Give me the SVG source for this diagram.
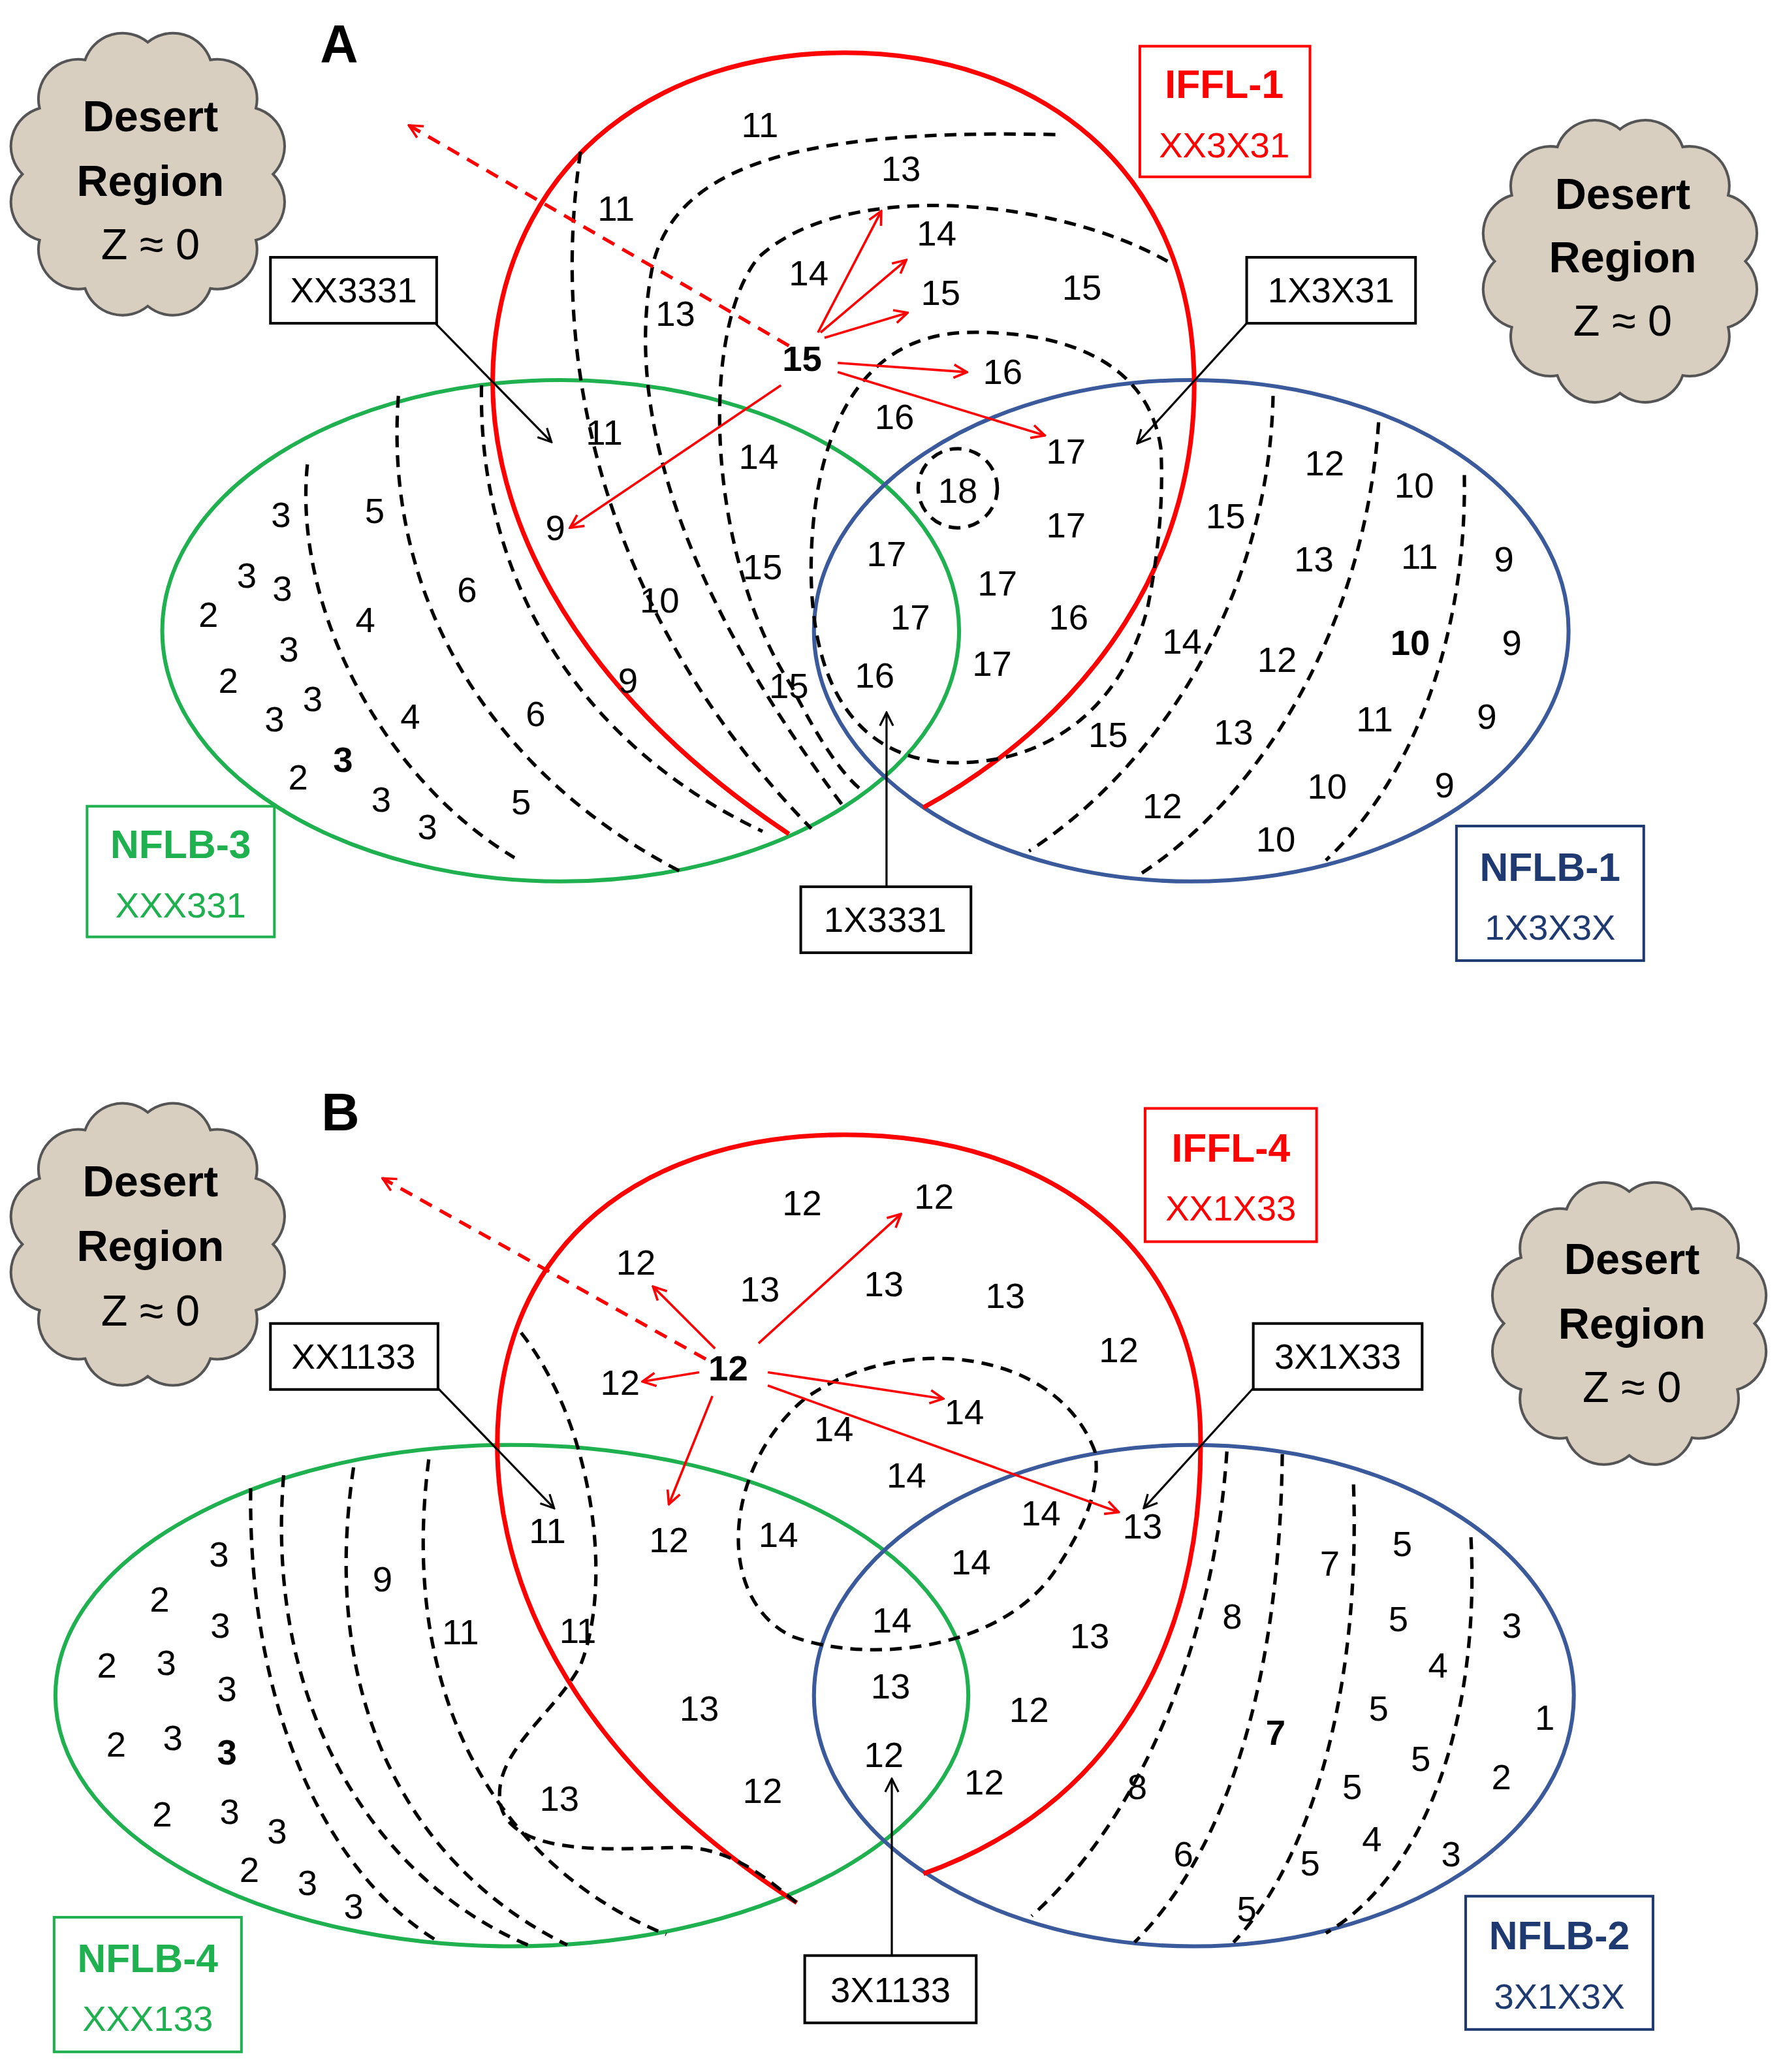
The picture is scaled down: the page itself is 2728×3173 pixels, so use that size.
<svg xmlns="http://www.w3.org/2000/svg" width="2728" height="3173" viewBox="0 0 2728 3173">
<defs>
<style>
text{font-family:"Liberation Sans",Arial,sans-serif;font-size:27px;text-anchor:middle;dominant-baseline:central;fill:#000}
.b{font-weight:bold}
.d{fill:none;stroke:#000;stroke-width:2.6;stroke-dasharray:9 6}
.ra{stroke:#f00;stroke-width:1.8;fill:none;marker-end:url(#rh)}
.rd{stroke:#f00;stroke-width:2.6;fill:none;stroke-dasharray:10 7;marker-end:url(#rh)}
.ka{stroke:#000;stroke-width:1.6;fill:none;marker-end:url(#kh)}
.box{fill:#fff;stroke:#000;stroke-width:2}
.cl{fill:#d8cfc0;stroke:#555;stroke-width:2}
.ct{font-size:33px;font-weight:bold}
.ct2{font-size:33px}
.ttl{font-size:30px;font-weight:bold}
</style>
<marker id="rh" viewBox="0 0 12 12" refX="11" refY="6" markerWidth="12" markerHeight="12" markerUnits="userSpaceOnUse" orient="auto"><path d="M1,1 L11,6 L1,11" fill="none" stroke="#f00" stroke-width="1.8"/></marker>
<marker id="kh" viewBox="0 0 12 12" refX="11" refY="6" markerWidth="12" markerHeight="12" markerUnits="userSpaceOnUse" orient="auto"><path d="M1,1 L11,6 L1,11" fill="none" stroke="#000" stroke-width="1.6"/></marker>
<path id="cloud" d="M95,0 A30,30 0 0 1 82,50 A30,30 0 0 1 47.5,86.6 A30,30 0 0 1 0,100 A30,30 0 0 1 -47.5,86.6 A30,30 0 0 1 -82,50 A30,30 0 0 1 -95,0 A30,30 0 0 1 -82,-50 A30,30 0 0 1 -47.5,-86.6 A30,30 0 0 1 0,-100 A30,30 0 0 1 47.5,-86.6 A30,30 0 0 1 82,-50 A30,30 0 0 1 95,0 Z"/>
</defs>
<rect width="2728" height="3173" fill="#fff"/>
<g transform="scale(2.0207)">
<!-- PANEL A -->
<text x="257" y="33" style="font-size:40px;font-weight:bold">A</text>
<g id="cloudA1"><use href="#cloud" class="cl" transform="translate(112,132)"/><text class="ct" x="114" y="88">Desert</text><text class="ct" x="114" y="137">Region</text><text class="ct2" x="114" y="185">Z ≈ 0</text></g>
<g id="cloudA2"><use href="#cloud" class="cl" transform="translate(1228,198)"/><text class="ct" x="1230" y="147">Desert</text><text class="ct" x="1230" y="195">Region</text><text class="ct2" x="1230" y="243">Z ≈ 0</text></g>
<g id="nflb3"><ellipse cx="425" cy="478" rx="302" ry="190" fill="none" stroke="#1fb050" stroke-width="3"/></g>
<g id="nflb1"><ellipse cx="903" cy="478" rx="286" ry="190" fill="none" stroke="#3a5a9c" stroke-width="3"/></g>
<g id="iffl1"><path d="M598,632 C430,520 362,380 375,260 C390,120 500,40 640,40 C790,40 900,130 905,280 C910,420 830,540 700,612" fill="none" stroke="#f00" stroke-width="3.5"/></g>
<g id="dashA">
<path class="d" d="M233,352 C222,460 290,590 390,650"/>
<path class="d" d="M302,300 C290,460 380,590 515,660"/>
<path class="d" d="M365,292 C362,450 450,570 578,630"/>
<path class="d" d="M440,115 C410,320 490,500 615,628"/>
<path class="d" d="M800,102 C620,98 515,120 495,200 C468,330 540,480 640,612"/>
<path class="d" d="M885,198 C800,150 640,135 575,195 C530,250 535,420 600,520 C620,560 640,590 655,600"/>
<path class="d" d="M880,340 C870,270 800,250 730,252 C650,256 618,330 615,420 C612,520 650,575 720,578 C790,580 850,540 870,460 C878,420 882,380 880,340"/>
<circle class="d" cx="726" cy="370" r="30"/>
<path class="d" d="M965,300 C962,450 880,580 780,645"/>
<path class="d" d="M1045,320 C1035,470 960,600 865,662"/>
<path class="d" d="M1110,360 C1112,480 1072,590 1005,652"/>
</g>
<g id="labelsA">
<text x="576" y="95">11</text><text x="683" y="128">13</text><text x="467" y="158">11</text><text x="710" y="177">14</text><text x="613" y="207">14</text><text x="713" y="222">15</text><text x="820" y="218">15</text><text x="512" y="238">13</text><text class="b" x="608" y="272">15</text><text x="760" y="282">16</text><text x="678" y="316">16</text><text x="458" y="328">11</text><text x="808" y="342">17</text><text x="575" y="346">14</text><text x="726" y="372">18</text><text x="421" y="400">9</text><text x="808" y="398">17</text><text x="672" y="420">17</text><text x="578" y="430">15</text><text x="756" y="442">17</text><text x="500" y="455">10</text><text x="810" y="468">16</text><text x="690" y="468">17</text><text x="476" y="516">9</text><text x="598" y="520">15</text><text x="663" y="512">16</text><text x="752" y="503">17</text>
<text x="213" y="390">3</text><text x="284" y="387">5</text><text x="187" y="436">3</text><text x="214" y="446">3</text><text x="354" y="447">6</text><text x="158" y="466">2</text><text x="277" y="470">4</text><text x="219" y="492">3</text><text x="173" y="516">2</text><text x="237" y="530">3</text><text x="208" y="545">3</text><text x="311" y="543">4</text><text x="406" y="541">6</text><text class="b" x="260" y="576">3</text><text x="226" y="589">2</text><text x="289" y="606">3</text><text x="395" y="608">5</text><text x="324" y="627">3</text>
<text x="1004" y="351">12</text><text x="1072" y="368">10</text><text x="929" y="391">15</text><text x="996" y="424">13</text><text x="1076" y="422">11</text><text x="1140" y="424">9</text><text x="896" y="486">14</text><text x="968" y="500">12</text><text class="b" x="1069" y="487">10</text><text x="1146" y="487">9</text><text x="840" y="557">15</text><text x="935" y="555">13</text><text x="1042" y="545">11</text><text x="1127" y="543">9</text><text x="881" y="611">12</text><text x="1006" y="596">10</text><text x="1095" y="595">9</text><text x="967" y="636">10</text>
</g>
<g id="arrowsA">
<path class="rd" d="M598,262 L310,95"/>
<path class="ra" d="M620,252 L668,160"/><path class="ra" d="M622,252 L687,197"/><path class="ra" d="M625,256 L688,237"/><path class="ra" d="M635,275 L733,282"/><path class="ra" d="M635,282 L792,330"/><path class="ra" d="M592,292 L432,400"/>
<path class="ka" d="M330,245 L418,335"/><path class="ka" d="M945,245 L862,336"/><path class="ka" d="M672,672 L672,540"/>
</g>
<g id="boxA1"><rect class="box" x="205" y="195" width="126" height="50"/><text x="268" y="220">XX3331</text></g>
<g id="boxA2"><rect class="box" x="945" y="195" width="128" height="50"/><text x="1009" y="220">1X3X31</text></g>
<g id="boxA3"><rect class="box" x="607" y="672" width="129" height="50"/><text x="671" y="697">1X3331</text></g>
<g id="legIFFL1"><rect x="864" y="35" width="129" height="99" fill="#fff" stroke="#f00" stroke-width="2"/><text class="ttl" x="928" y="64" style="fill:#f00">IFFL-1</text><text x="928" y="110" style="fill:#f00">XX3X31</text></g>
<g id="legNFLB3"><rect x="66" y="611" width="142" height="99" fill="#fff" stroke="#1fb050" stroke-width="2"/><text class="ttl" x="137" y="640" style="fill:#1fb050">NFLB-3</text><text x="137" y="686" style="fill:#1fb050">XXX331</text></g>
<g id="legNFLB1"><rect x="1104" y="626" width="142" height="102" fill="#fff" stroke="#1f3a70" stroke-width="2"/><text class="ttl" x="1175" y="657" style="fill:#1f3a70">NFLB-1</text><text x="1175" y="703" style="fill:#1f3a70">1X3X3X</text></g>

<!-- PANEL B -->
<text x="258" y="843" style="font-size:40px;font-weight:bold">B</text>
<g id="cloudB1"><use href="#cloud" class="cl" transform="translate(112,943)"/><text class="ct" x="114" y="895">Desert</text><text class="ct" x="114" y="944">Region</text><text class="ct2" x="114" y="993">Z ≈ 0</text></g>
<g id="cloudB2"><use href="#cloud" class="cl" transform="translate(1235,1003)"/><text class="ct" x="1237" y="954">Desert</text><text class="ct" x="1237" y="1003">Region</text><text class="ct2" x="1237" y="1051">Z ≈ 0</text></g>
<g id="nflb4"><ellipse cx="388" cy="1285" rx="346" ry="190" fill="none" stroke="#1fb050" stroke-width="3"/></g>
<g id="nflb2"><ellipse cx="905" cy="1285" rx="288" ry="190" fill="none" stroke="#3a5a9c" stroke-width="3"/></g>
<g id="iffl4"><path d="M604,1442 C430,1330 368,1190 378,1070 C390,930 500,860 640,860 C800,860 910,950 910,1090 C912,1250 840,1370 700,1420" fill="none" stroke="#f00" stroke-width="3.5"/></g>
<g id="dashB">
<path class="d" d="M830,1100 C800,1020 680,1010 610,1060 C550,1110 540,1210 600,1240 C660,1262 760,1250 800,1190 C820,1160 835,1130 830,1100"/>
<path class="d" d="M395,1010 C450,1080 465,1200 440,1262 C420,1300 370,1330 380,1370 C392,1410 480,1400 520,1400 C560,1402 588,1430 604,1442"/>
<path class="d" d="M190,1128 C188,1300 250,1420 330,1470"/>
<path class="d" d="M215,1118 C200,1300 290,1430 405,1476"/>
<path class="d" d="M268,1112 C240,1300 320,1420 430,1474"/>
<path class="d" d="M325,1106 C300,1300 390,1420 505,1466"/>
<path class="d" d="M930,1100 C920,1250 862,1380 782,1452"/>
<path class="d" d="M972,1102 C970,1270 932,1400 860,1472"/>
<path class="d" d="M1026,1125 C1032,1300 985,1420 935,1472"/>
<path class="d" d="M1115,1165 C1122,1300 1082,1420 1005,1465"/>
</g>
<g id="labelsB">
<text x="608" y="912">12</text><text x="708" y="907">12</text><text x="482" y="957">12</text><text x="576" y="977">13</text><text x="670" y="973">13</text><text x="762" y="982">13</text><text x="848" y="1023">12</text><text class="b" x="552" y="1037">12</text><text x="470" y="1048">12</text><text x="632" y="1083">14</text><text x="731" y="1070">14</text><text x="687" y="1118">14</text><text x="789" y="1147">14</text><text x="866" y="1157">13</text><text x="415" y="1160">11</text><text x="507" y="1167">12</text><text x="590" y="1163">14</text><text x="736" y="1184">14</text><text x="290" y="1197">9</text><text x="349" y="1237">11</text><text x="438" y="1236">11</text><text x="676" y="1228">14</text><text x="826" y="1240">13</text><text x="675" y="1278">13</text><text x="530" y="1295">13</text><text x="780" y="1296">12</text><text x="670" y="1330">12</text><text x="424" y="1363">13</text><text x="578" y="1357">12</text><text x="746" y="1351">12</text>
<text x="934" y="1225">8</text><text x="1008" y="1185">7</text><text x="1063" y="1170">5</text><text x="1060" y="1227">5</text><text x="1090" y="1262">4</text><text x="1146" y="1232">3</text><text x="1045" y="1295">5</text><text class="b" x="967" y="1313">7</text><text x="1077" y="1333">5</text><text x="1171" y="1302">1</text><text x="862" y="1354">8</text><text x="1025" y="1354">5</text><text x="1138" y="1347">2</text><text x="897" y="1405">6</text><text x="993" y="1412">5</text><text x="1040" y="1394">4</text><text x="1100" y="1405">3</text><text x="945" y="1447">5</text>
<text x="166" y="1178">3</text><text x="121" y="1212">2</text><text x="167" y="1232">3</text><text x="81" y="1262">2</text><text x="126" y="1260">3</text><text x="172" y="1280">3</text><text x="88" y="1322">2</text><text x="131" y="1317">3</text><text class="b" x="172" y="1328">3</text><text x="123" y="1375">2</text><text x="174" y="1373">3</text><text x="210" y="1388">3</text><text x="189" y="1417">2</text><text x="233" y="1427">3</text><text x="268" y="1445">3</text>
</g>
<g id="arrowsB">
<path class="rd" d="M535,1030 L290,893"/>
<path class="ra" d="M542,1022 L495,975"/><path class="ra" d="M530,1040 L487,1047"/><path class="ra" d="M540,1058 L507,1140"/><path class="ra" d="M575,1018 L683,920"/><path class="ra" d="M582,1040 L715,1060"/><path class="ra" d="M582,1050 L848,1146"/>
<path class="ka" d="M332,1052 L420,1143"/><path class="ka" d="M950,1052 L867,1143"/><path class="ka" d="M676,1482 L676,1348"/>
</g>
<g id="boxB1"><rect class="box" x="205" y="1003" width="127" height="50"/><text x="268" y="1028">XX1133</text></g>
<g id="boxB2"><rect class="box" x="950" y="1003" width="128" height="50"/><text x="1014" y="1028">3X1X33</text></g>
<g id="boxB3"><rect class="box" x="610" y="1482" width="130" height="51"/><text x="675" y="1508">3X1133</text></g>
<g id="legIFFL4"><rect x="868" y="840" width="130" height="101" fill="#fff" stroke="#f00" stroke-width="2"/><text class="ttl" x="933" y="870" style="fill:#f00">IFFL-4</text><text x="933" y="916" style="fill:#f00">XX1X33</text></g>
<g id="legNFLB4"><rect x="41" y="1453" width="142" height="102" fill="#fff" stroke="#1fb050" stroke-width="2"/><text class="ttl" x="112" y="1484" style="fill:#1fb050">NFLB-4</text><text x="112" y="1530" style="fill:#1fb050">XXX133</text></g>
<g id="legNFLB2"><rect x="1111" y="1437" width="142" height="101" fill="#fff" stroke="#1f3a70" stroke-width="2"/><text class="ttl" x="1182" y="1467" style="fill:#1f3a70">NFLB-2</text><text x="1182" y="1513" style="fill:#1f3a70">3X1X3X</text></g>
</g>
</svg>
